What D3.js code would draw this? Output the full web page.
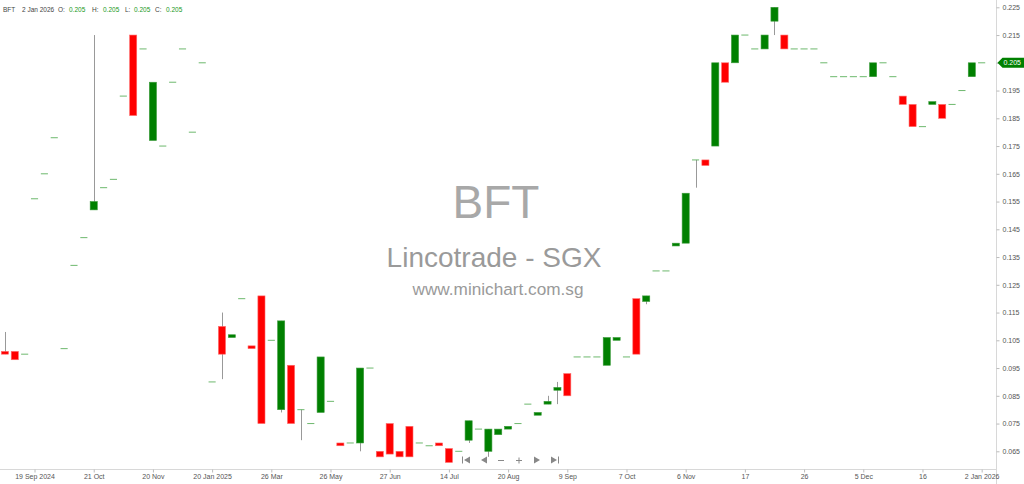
<!DOCTYPE html>
<html>
<head>
<meta charset="utf-8">
<script src="https://cdn.jsdelivr.net/npm/d3@7"></script>
<style>
  html, body { margin: 0; padding: 0; background: #fff; }
  svg { display: block; font-family: "Liberation Sans", Arial, sans-serif; }
</style>
</head>
<body>
<svg id="chart" width="1024" height="484"></svg>
<script>
// ---- data ----
const opens = [0.101,0.101,0.100,0.156,0.165,0.178,0.102,0.132,0.142,0.152,
  0.160,0.163,0.193,0.215,0.210,0.177,0.175,0.198,0.210,0.180,
  0.205,0.090,0.110,0.106,0.120,0.103,0.121,0.105,0.080,0.096,
  0.080,0.075,0.079,0.083,0.068,0.068,0.068,0.095,0.065,0.075,
  0.065,0.074,0.068,0.067,0.068,0.066,0.065,0.069,0.073,0.065,
  0.071,0.073,0.075,0.082,0.078,0.082,0.087,0.093,0.099,0.099,
  0.099,0.096,0.105,0.099,0.120,0.119,0.130,0.130,0.139,0.140,
  0.170,0.170,0.175,0.205,0.205,0.215,0.210,0.210,0.220,0.215,
  0.210,0.210,0.210,0.205,0.200,0.200,0.200,0.200,0.200,0.205,
  0.200,0.193,0.190,0.182,0.190,0.190,0.190,0.195,0.200,0.205];
const highs = [0.108,0.101,0.100,0.156,0.165,0.178,0.102,0.132,0.142,0.215,
  0.160,0.163,0.193,0.215,0.210,0.198,0.175,0.198,0.210,0.180,
  0.205,0.090,0.115,0.107,0.120,0.103,0.121,0.105,0.112,0.096,
  0.080,0.075,0.099,0.083,0.068,0.068,0.095,0.095,0.065,0.075,
  0.065,0.074,0.068,0.067,0.068,0.066,0.065,0.076,0.073,0.073,
  0.073,0.074,0.075,0.082,0.079,0.085,0.090,0.093,0.099,0.099,
  0.099,0.106,0.106,0.099,0.120,0.121,0.130,0.130,0.140,0.158,
  0.170,0.170,0.205,0.205,0.215,0.215,0.210,0.215,0.225,0.215,
  0.210,0.210,0.210,0.205,0.200,0.200,0.200,0.200,0.205,0.205,
  0.200,0.193,0.190,0.182,0.191,0.190,0.190,0.195,0.205,0.205];
const lows = [0.100,0.098,0.100,0.156,0.165,0.178,0.102,0.132,0.142,0.152,
  0.160,0.163,0.193,0.186,0.210,0.177,0.175,0.198,0.210,0.180,
  0.205,0.090,0.091,0.106,0.120,0.102,0.075,0.105,0.079,0.075,
  0.069,0.075,0.079,0.083,0.067,0.068,0.065,0.095,0.063,0.064,
  0.063,0.063,0.068,0.067,0.067,0.061,0.065,0.068,0.073,0.063,
  0.071,0.073,0.075,0.082,0.078,0.082,0.082,0.085,0.099,0.099,
  0.099,0.096,0.105,0.099,0.100,0.118,0.130,0.130,0.139,0.140,
  0.160,0.168,0.175,0.198,0.205,0.215,0.210,0.210,0.215,0.210,
  0.210,0.210,0.210,0.205,0.200,0.200,0.200,0.200,0.200,0.205,
  0.200,0.190,0.182,0.182,0.190,0.185,0.190,0.195,0.200,0.205];
const closes = [0.100,0.098,0.100,0.156,0.165,0.178,0.102,0.132,0.142,0.155,
  0.160,0.163,0.193,0.186,0.210,0.198,0.175,0.198,0.210,0.180,
  0.205,0.090,0.100,0.107,0.120,0.102,0.075,0.105,0.112,0.075,
  0.080,0.075,0.099,0.083,0.067,0.068,0.095,0.095,0.063,0.064,
  0.063,0.063,0.068,0.067,0.067,0.061,0.065,0.076,0.073,0.073,
  0.073,0.074,0.075,0.082,0.079,0.083,0.088,0.085,0.099,0.099,
  0.099,0.106,0.106,0.099,0.100,0.121,0.130,0.130,0.140,0.158,
  0.170,0.168,0.205,0.198,0.215,0.215,0.210,0.215,0.225,0.210,
  0.210,0.210,0.210,0.205,0.200,0.200,0.200,0.200,0.205,0.205,
  0.200,0.190,0.182,0.182,0.191,0.185,0.190,0.195,0.205,0.205];
const tickLabels = ["19 Sep 2024","21 Oct","20 Nov","20 Jan 2025","26 Mar","26 May",
  "27 Jun","14 Jul","20 Aug","9 Sep","7 Oct","6 Nov","17","26","5 Dec","16","2 Jan 2026"];
const tickEvery = 6, tickStart = 3;
const priceTicks = d3.range(0.065, 0.2251, 0.01);
const header = { symbol: "BFT", date: "2 Jan 2026", o: "0.205", h: "0.205", l: "0.205", c: "0.205" };
const lastPrice = 0.205;

// ---- layout ----
const W = 1024, H = 484;
const plotRight = 996.5, plotBottom = 469.5;
const svg = d3.select("#chart");
const n = closes.length;
const candles = d3.range(n).map(i => ({i, o: opens[i], h: highs[i], l: lows[i], c: closes[i]}));

const x = d3.scaleBand().domain(d3.range(n)).range([0, 986.6]).paddingInner(0.28).paddingOuter(0.14);
const y = d3.scaleLinear().domain([0.065, 0.225]).range([451.3, 7.3]);
const bw = x.bandwidth();
const cx = i => x(i) + bw / 2;

// watermark
const wm = svg.append("g").attr("fill", "#a8a8a8").attr("text-anchor", "middle");
wm.append("text").attr("x", 496).attr("y", 218).attr("font-size", 46).text("BFT");
wm.append("text").attr("x", 494).attr("y", 267).attr("font-size", 28).attr("fill", "#9a9a9a").text("Lincotrade - SGX");
wm.append("text").attr("x", 498).attr("y", 295).attr("font-size", 17.2).attr("fill", "#9a9a9a").text("www.minichart.com.sg");

// axes lines
svg.append("line").attr("x1", 0).attr("x2", plotRight).attr("y1", plotBottom).attr("y2", plotBottom)
  .attr("stroke", "#d8d8d8");
svg.append("line").attr("x1", plotRight).attr("x2", plotRight).attr("y1", 0).attr("y2", H)
  .attr("stroke", "#d8d8d8");

// right price axis
const yAxis = d3.axisRight(y).tickValues(priceTicks).tickFormat(d3.format(".3f")).tickSize(3).tickPadding(3);
const ya = svg.append("g").attr("transform", `translate(${plotRight},0)`).call(yAxis);
ya.select(".domain").remove();
ya.selectAll("line").attr("stroke", "#bbb");
ya.selectAll("text").attr("fill", "#555").attr("font-size", 7).attr("font-family", "Liberation Sans, Arial");

// bottom date axis
const tickIdx = tickLabels.map((_, k) => tickStart + k * tickEvery);
const xAxis = d3.axisBottom(d3.scalePoint().domain(d3.range(n)).range([cx(0), cx(n - 1)]))
  .tickValues(tickIdx).tickFormat((d, k) => tickLabels[k]).tickSize(3).tickPadding(2);
const xa = svg.append("g").attr("transform", `translate(0,${plotBottom})`).call(xAxis);
xa.select(".domain").remove();
xa.selectAll("line").attr("stroke", "#bbb");
xa.selectAll("text").attr("fill", "#555").attr("font-size", 7).attr("font-family", "Liberation Sans, Arial");

// candles
const g = svg.append("g");
// wicks
g.selectAll(".wick").data(candles.filter(d => d.h > Math.max(d.o, d.c) || d.l < Math.min(d.o, d.c)))
  .join("line").attr("class", "wick")
  .attr("x1", d => Math.round(cx(d.i)) + 0.5).attr("x2", d => Math.round(cx(d.i)) + 0.5)
  .attr("y1", d => y(d.h)).attr("y2", d => y(d.l))
  .attr("stroke", "#999").attr("stroke-width", 1);
// bodies
g.selectAll(".body").data(candles.filter(d => d.o !== d.c))
  .join("rect").attr("class", "body")
  .attr("x", d => x(d.i)).attr("width", bw)
  .attr("y", d => y(Math.max(d.o, d.c)))
  .attr("height", d => Math.max(1.5, Math.abs(y(d.o) - y(d.c))))
  .attr("fill", d => d.c > d.o ? "#008000" : "#ff0000")
  .attr("stroke", d => d.c > d.o ? "#3a9a3a" : "#ff6a6a").attr("stroke-width", 0.6);
// doji dashes
g.selectAll(".dash").data(candles.filter(d => d.o === d.c))
  .join("line").attr("class", "dash")
  .attr("x1", d => x(d.i)).attr("x2", d => x(d.i) + bw)
  .attr("y1", d => y(d.c)).attr("y2", d => y(d.c))
  .attr("stroke", "#55ad55").attr("stroke-width", 1).attr("opacity", 0.85);

// last price tag
const ly = y(lastPrice);
svg.append("path")
  .attr("d", `M${plotRight + 1},${ly} L${plotRight + 6},${ly - 5} L${W},${ly - 5} L${W},${ly + 5} L${plotRight + 6},${ly + 5} Z`)
  .attr("fill", "#008000");
svg.append("text").attr("x", plotRight + 7).attr("y", ly + 2.5).attr("fill", "#fff")
  .attr("font-size", 7).text(d3.format(".3f")(lastPrice));

// header
const hd = svg.append("g").attr("font-size", 6.5).attr("fill", "#444");
const hy = 12;
hd.append("text").attr("x", 3).attr("y", hy).text(header.symbol);
hd.append("text").attr("x", 22).attr("y", hy).text(header.date);
[["O:", header.o, 58, 69], ["H:", header.h, 92, 103], ["L:", header.l, 125, 134], ["C:", header.c, 155, 166]]
  .forEach(([lab, val, lx, vx]) => {
    hd.append("text").attr("x", lx).attr("y", hy).text(lab);
    hd.append("text").attr("x", vx).attr("y", hy).attr("fill", "#1a9a1a").text(val);
  });

// navigation icons
const nav = svg.append("g").attr("fill", "#888").attr("stroke", "#888");
const ny = 460;
// |<
nav.append("line").attr("x1", 462.5).attr("x2", 462.5).attr("y1", ny - 3.5).attr("y2", ny + 3.5).attr("stroke-width", 1);
nav.append("path").attr("d", `M464,${ny} L470,${ny - 3.5} L470,${ny + 3.5} Z`).attr("stroke", "none");
// <
nav.append("path").attr("d", `M481,${ny} L487,${ny - 3.5} L487,${ny + 3.5} Z`).attr("stroke", "none");
// -
nav.append("line").attr("x1", 498).attr("x2", 504).attr("y1", ny + 0.5).attr("y2", ny + 0.5).attr("stroke-width", 1);
// +
nav.append("line").attr("x1", 516).attr("x2", 522).attr("y1", ny + 0.5).attr("y2", ny + 0.5).attr("stroke-width", 1);
nav.append("line").attr("x1", 519).attr("x2", 519).attr("y1", ny - 2.5).attr("y2", ny + 3.5).attr("stroke-width", 1);
// >
nav.append("path").attr("d", `M540,${ny} L534,${ny - 3.5} L534,${ny + 3.5} Z`).attr("stroke", "none");
// >|
nav.append("path").attr("d", `M557,${ny} L551,${ny - 3.5} L551,${ny + 3.5} Z`).attr("stroke", "none");
nav.append("line").attr("x1", 558.5).attr("x2", 558.5).attr("y1", ny - 3.5).attr("y2", ny + 3.5).attr("stroke-width", 1);
</script>
</body>
</html>
